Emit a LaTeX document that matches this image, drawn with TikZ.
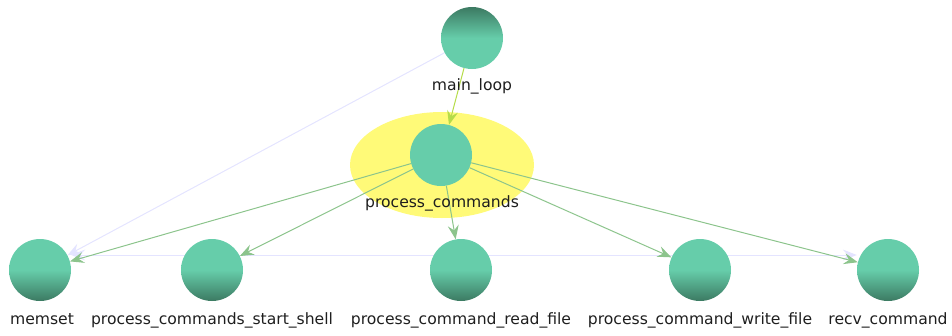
\documentclass[tikz,border=0pt]{standalone}
\usepackage{fontspec}
\setmainfont{DejaVu Sans}
\usetikzlibrary{arrows.meta}
\pgfdeclarelayer{halo}
\pgfdeclarelayer{edges}
\pgfsetlayers{halo,edges,main}
\definecolor{nodelight}{HTML}{66CDAA}
\definecolor{nodedark}{HTML}{3C7A62}
\definecolor{calledge}{HTML}{8CC48C}
\definecolor{entryedge}{HTML}{B5DC4A}
\definecolor{faintedge}{HTML}{E4E4FF}
\definecolor{focus}{HTML}{FFFA78}
\definecolor{labeltext}{HTML}{1E1E1E}
\tikzset{
  fn/.style={circle, minimum size=62pt, inner sep=0pt},
  fnlow/.style={fn, top color=nodelight, bottom color=nodedark, middle color=nodelight},
  fnhigh/.style={fn, top color=nodedark, bottom color=nodelight, middle color=nodelight},
  fnflat/.style={fn, fill=nodelight},
  fnlabel/.style={text=labeltext, font=\fontsize{15.6}{18}\selectfont, inner sep=0pt, anchor=base},
  tip/.style={-{Stealth[length=14pt,width=11pt,inset=5pt]}},
  call/.style={tip, draw=calledge, line width=1pt},
  entry/.style={tip, draw=entryedge, line width=1pt},
  faint/.style={tip, draw=faintedge, line width=1pt},
}
\begin{document}
\begin{tikzpicture}[x=1pt,y=-1pt]
\useasboundingbox (0,0) rectangle (952,335);

% functions
\node[fnhigh] (mainloop) at (472,38) {};
\node[fnflat] (proc) at (441,155) {};
\node[fnlow] (memset) at (40,270) {};
\node[fnlow] (shell) at (212,270) {};
\node[fnlow] (readf) at (461,270) {};
\node[fnlow] (writef) at (700,270) {};
\node[fnlow] (recv) at (888,270) {};

% names
\node[fnlabel] (lmain) at (472,90) {main\_loop};
\node[fnlabel] (lproc) at (442,207) {process\_commands};
\node[fnlabel] (lmem) at (42,324) {memset};
\node[fnlabel] (lshell) at (212,324) {process\_commands\_start\_shell};
\node[fnlabel] (lread) at (461,324) {process\_command\_read\_file};
\node[fnlabel] (lwrite) at (700,324) {process\_command\_write\_file};
\node[fnlabel] (lrecv) at (888,324) {recv\_command};

% highlight behind the selected function
\begin{pgfonlayer}{halo}
  \fill[focus] (proc.center) ++(1,10) ellipse [x radius=92, y radius=53];
\end{pgfonlayer}

% calls
\begin{pgfonlayer}{edges}
  \coordinate (mid) at ([yshift=15pt]readf.center);
  \draw[faint] (mid) -- ([yshift=15pt]memset.east);
  \draw[faint] (mid) -- ([yshift=15pt]recv.west);
  \draw[faint] (mainloop) -- (memset);
  \draw[call] (proc) -- (memset);
  \draw[call] (proc) -- (shell);
  \draw[call] (proc) -- (readf);
  \draw[call] (proc) -- (writef);
  \draw[call] (proc) -- (recv);
  \draw[entry] (mainloop) -- (proc);
\end{pgfonlayer}
\end{tikzpicture}
\end{document}
